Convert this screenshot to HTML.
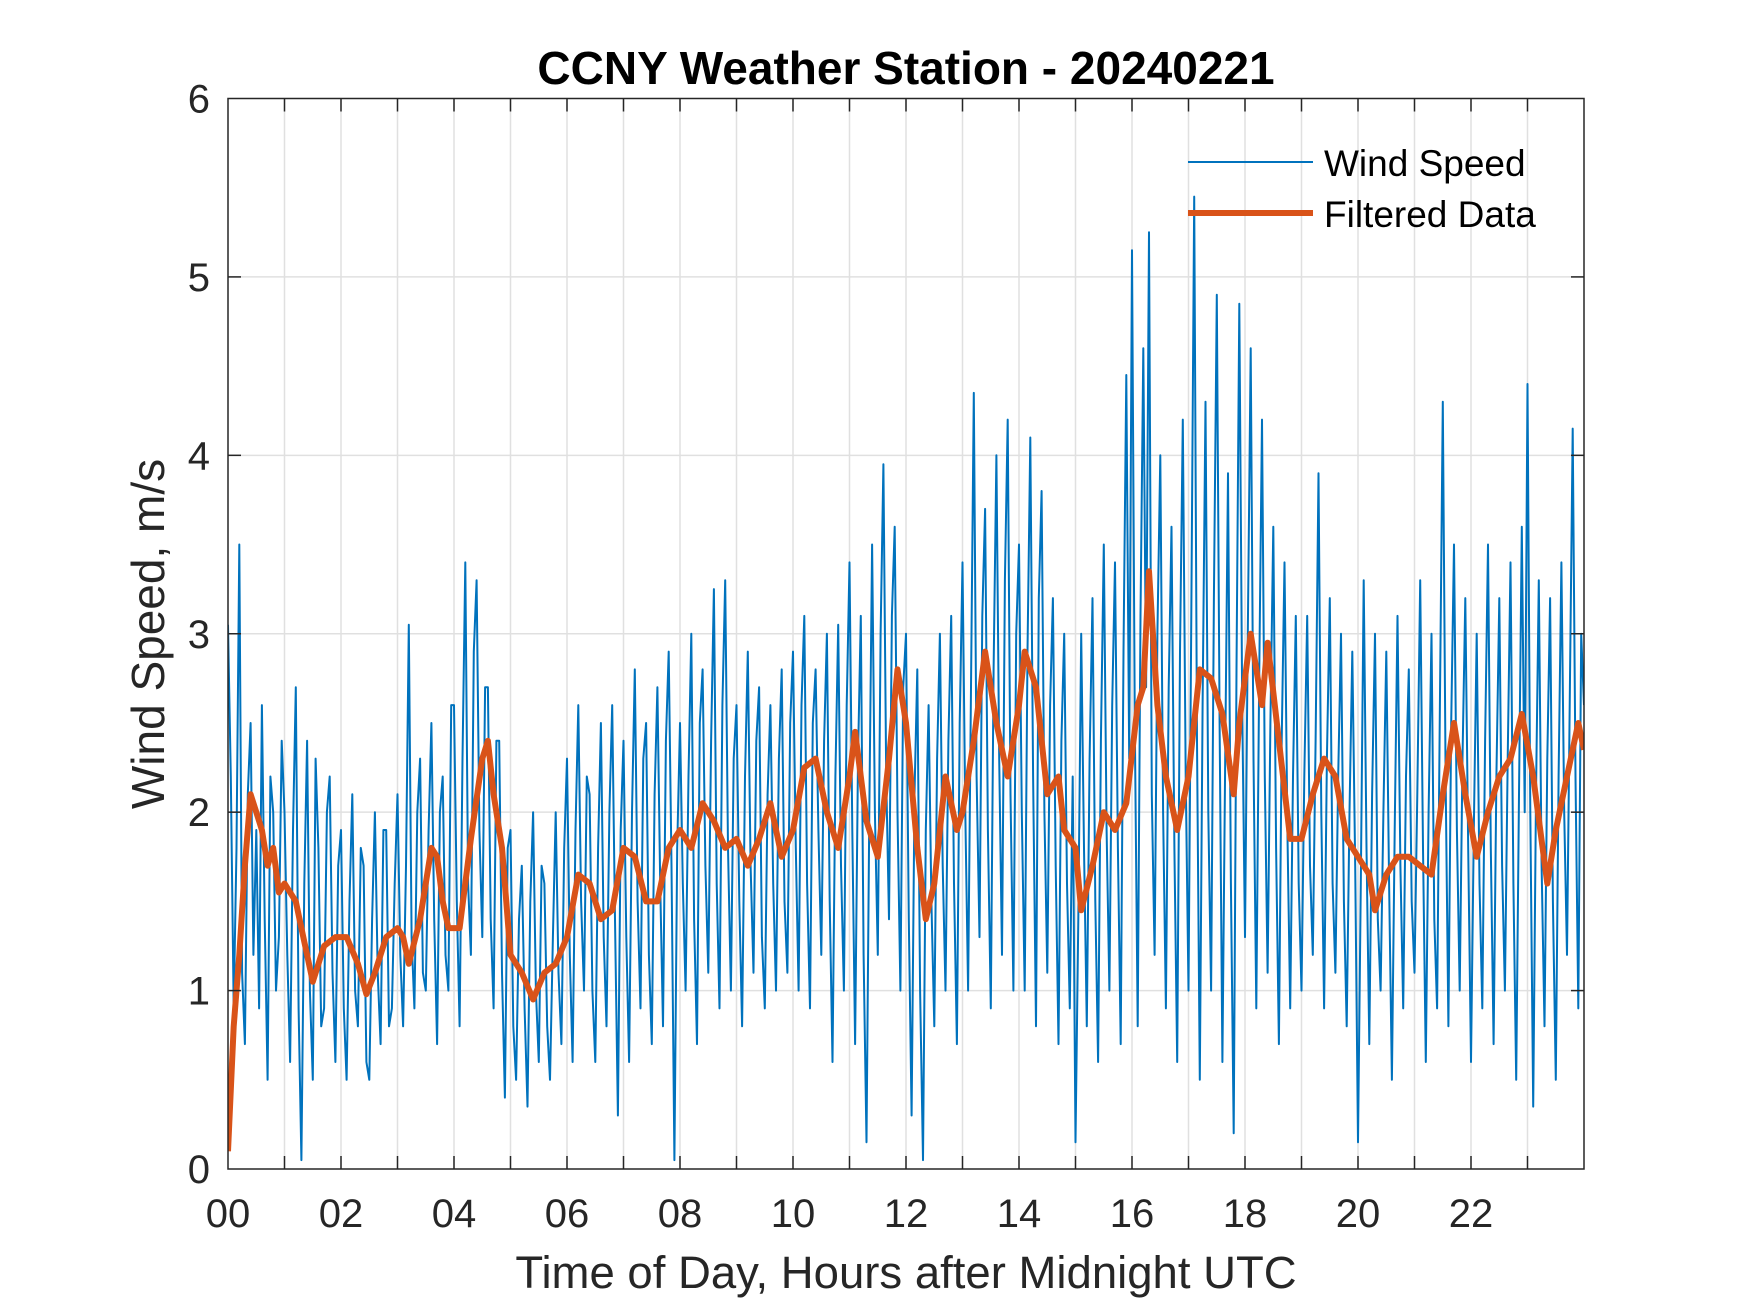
<!DOCTYPE html>
<html><head><meta charset="utf-8"><style>
html,body{margin:0;padding:0;background:#fff;}
svg{display:block;font-family:"Liberation Sans",Arial,sans-serif;}
</style></head><body>
<svg id="chart" width="1750" height="1313" viewBox="0 0 1750 1313" xmlns="http://www.w3.org/2000/svg">
<rect width="1750" height="1313" fill="#fff"/>
<defs><clipPath id="clip"><rect x="228" y="98.5" width="1356" height="1070.5"/></clipPath></defs>
<g id="grid"></g>
<g id="series" clip-path="url(#clip)"></g>
<rect x="228" y="98.5" width="1356" height="1070.5" fill="none" stroke="#262626" stroke-width="1.5"/>
<g id="ticks"></g>
<text x="906" y="84" text-anchor="middle" font-size="46" font-weight="bold" fill="#000">CCNY Weather Station - 20240221</text>
<text x="906" y="1288" text-anchor="middle" font-size="45.5" fill="#262626">Time of Day, Hours after Midnight UTC</text>
<text transform="translate(164,634) rotate(-90)" text-anchor="middle" font-size="46" fill="#262626">Wind Speed, m/s</text>
<g>
<line x1="1188" y1="162" x2="1313" y2="162" stroke="#0072BD" stroke-width="2"/>
<text x="1324" y="176" font-size="37" fill="#000">Wind Speed</text>
<line x1="1188" y1="213" x2="1313" y2="213" stroke="#D95319" stroke-width="6"/>
<text x="1324" y="227" font-size="37" fill="#000">Filtered Data</text>
</g>
</svg>
<script>
const xTickLabels=["00","02","04","06","08","10","12","14","16","18","20","22"];
const yTickLabels=["0","1","2","3","4","5","6"];
const windSpeed=[
3.05,2.2,0.9,1.8,3.5,1.1,0.7,2.1,2.5,1.2,1.9,0.9,2.6,1.4,0.5,2.2,2.0,1.0,1.3,2.4,
2.0,1.2,0.6,1.9,2.7,0.9,0.05,1.6,2.4,1.0,0.5,2.3,1.8,0.8,0.9,2.0,2.2,1.1,0.6,1.7,
1.9,0.9,0.5,1.5,2.1,1.0,0.8,1.8,1.7,0.6,0.5,1.4,2.0,1.1,0.7,1.9,1.9,0.8,0.9,1.6,
2.1,1.2,0.8,1.7,3.05,1.3,0.9,2.0,2.3,1.1,1.0,1.9,2.5,1.4,0.7,2.0,2.2,1.2,1.0,2.6,
2.6,1.5,0.8,2.3,3.4,1.6,1.2,2.9,3.3,1.9,1.3,2.7,2.7,1.4,0.9,2.4,2.4,1.1,0.4,1.8,
1.9,0.8,0.5,1.4,1.7,0.9,0.35,1.5,2.0,1.0,0.6,1.7,1.6,0.8,0.5,1.3,2.0,1.1,0.7,1.8,
2.3,1.2,0.6,1.9,2.6,1.5,1.0,2.2,2.1,1.0,0.6,1.8,2.5,1.3,0.8,2.0,2.6,1.4,0.3,1.9,
2.4,1.3,0.6,2.0,2.8,1.5,0.9,2.3,2.5,1.2,0.7,2.1,2.7,1.6,0.8,2.4,2.9,1.7,0.05,1.8,
2.5,1.6,1.0,2.2,3.0,1.4,0.7,2.5,2.8,1.7,1.1,2.4,3.25,1.6,0.9,2.6,3.3,1.8,1.0,2.3,
2.6,1.5,0.8,2.2,2.9,1.7,1.1,2.4,2.7,1.3,0.9,2.1,2.6,1.6,1.0,2.3,2.8,1.5,1.1,2.5,
2.9,1.8,1.0,2.6,3.1,1.6,0.9,2.5,2.8,1.9,1.2,2.4,3.0,1.5,0.6,2.2,3.05,1.7,1.0,2.6,
3.4,1.9,0.7,2.3,3.1,1.2,0.15,2.0,3.5,2.0,1.2,3.0,3.95,2.2,1.4,3.1,3.6,2.0,1.0,2.7,
3.0,1.4,0.3,2.1,2.8,1.0,0.05,1.9,2.6,1.5,0.8,2.3,3.0,1.7,1.0,2.4,3.1,1.6,0.7,2.5,
3.4,2.0,1.0,2.7,4.35,2.2,1.3,3.1,3.7,1.9,0.9,2.8,4.0,2.3,1.2,3.3,4.2,2.1,1.0,3.0,
3.5,2.0,1.0,2.9,4.1,2.2,0.8,3.2,3.8,2.0,1.1,2.6,3.2,1.7,0.7,2.4,3.0,1.6,0.9,2.2,
0.15,1.4,3.0,1.8,0.8,2.3,3.2,1.5,0.6,2.4,3.5,1.9,1.0,2.6,3.4,1.8,0.7,2.9,4.45,2.3,
5.15,2.5,0.8,3.1,4.6,2.7,5.25,2.1,1.2,3.0,4.0,2.0,0.9,2.7,3.6,1.8,0.6,2.9,4.2,2.2,
1.0,3.1,5.45,2.4,0.5,2.6,4.3,2.0,1.0,3.2,4.9,2.5,0.6,2.3,3.9,1.6,0.2,2.8,4.85,2.6,
1.3,3.0,4.6,2.3,0.9,2.7,4.2,2.2,1.1,2.5,3.6,1.8,0.7,2.4,3.4,1.9,0.9,2.2,3.1,1.6,
1.0,2.2,3.1,1.7,1.2,2.4,3.9,2.0,0.9,2.3,3.2,1.6,1.1,2.2,3.0,1.5,0.8,2.0,2.9,1.7,
0.15,1.6,3.3,1.8,0.7,2.1,3.0,1.4,1.0,2.0,2.9,1.6,0.5,1.9,3.1,1.7,0.9,2.2,2.8,1.5,
1.1,2.1,3.3,1.8,0.6,2.0,3.0,1.4,0.9,2.6,4.3,2.2,0.8,2.5,3.5,1.9,1.0,2.3,3.2,1.8,
0.6,1.9,3.0,1.6,0.9,2.4,3.5,1.8,0.7,2.2,3.2,1.7,1.0,2.3,3.4,1.6,0.5,2.1,3.6,2.0,
4.4,2.0,0.35,2.1,3.3,1.7,0.8,2.3,3.2,1.5,0.5,2.2,3.4,2.0,1.2,2.7,4.15,2.2,0.9,3.0,
2.6];
const filtT=[0,0.1,0.2,0.3,0.4,0.5,0.6,0.7,0.8,0.9,1.0,1.2,1.3,1.5,1.7,1.9,2.1,2.3,2.45,2.6,2.8,3.0,3.1,3.2,3.4,3.6,3.7,3.8,3.9,4.1,4.3,4.5,4.6,4.7,4.85,5.0,5.2,5.4,5.6,5.8,6.0,6.2,6.4,6.6,6.8,7.0,7.2,7.4,7.6,7.8,8.0,8.2,8.4,8.6,8.8,9.0,9.2,9.4,9.6,9.8,10.0,10.2,10.4,10.6,10.8,11.0,11.1,11.3,11.5,11.7,11.85,12.0,12.2,12.35,12.5,12.7,12.9,13.0,13.2,13.4,13.6,13.8,14.0,14.1,14.3,14.5,14.7,14.8,15.0,15.1,15.3,15.5,15.7,15.9,16.1,16.2,16.3,16.45,16.6,16.8,17.0,17.2,17.4,17.6,17.8,17.9,18.1,18.3,18.4,18.6,18.8,19.0,19.2,19.4,19.6,19.8,20.0,20.2,20.3,20.5,20.7,20.9,21.1,21.3,21.5,21.7,21.9,22.1,22.3,22.5,22.7,22.9,23.1,23.35,23.5,23.7,23.9,24];
const filtV=[0.1,0.8,1.2,1.7,2.1,2.0,1.9,1.7,1.8,1.55,1.6,1.5,1.35,1.05,1.25,1.3,1.3,1.15,0.98,1.1,1.3,1.35,1.3,1.15,1.4,1.8,1.75,1.5,1.35,1.35,1.85,2.3,2.4,2.1,1.8,1.2,1.1,0.95,1.1,1.15,1.3,1.65,1.6,1.4,1.45,1.8,1.75,1.5,1.5,1.8,1.9,1.8,2.05,1.95,1.8,1.85,1.7,1.85,2.05,1.75,1.9,2.25,2.3,2.0,1.8,2.2,2.45,1.95,1.75,2.3,2.8,2.5,1.8,1.4,1.6,2.2,1.9,2.0,2.4,2.9,2.5,2.2,2.6,2.9,2.7,2.1,2.2,1.9,1.8,1.45,1.7,2.0,1.9,2.05,2.6,2.7,3.35,2.6,2.2,1.9,2.2,2.8,2.75,2.55,2.1,2.5,3.0,2.6,2.95,2.4,1.85,1.85,2.1,2.3,2.2,1.85,1.75,1.65,1.45,1.65,1.75,1.75,1.7,1.65,2.1,2.5,2.1,1.75,2.0,2.2,2.3,2.55,2.2,1.6,1.9,2.2,2.5,2.35];

const NS="http://www.w3.org/2000/svg";
const X0=228,X1=1584,Y0=1169,Y1=98.5;
const xs=h=>X0+(h/24)*(X1-X0);
const ys=v=>Y0-(v/6)*(Y0-Y1);
function mk(tag,parent){const e=document.createElementNS(NS,tag);document.getElementById(parent).appendChild(e);return e;}

for(let h=1;h<24;h++){
  const g=mk('line','grid');
  
  
  g.setAttribute('x1',xs(h));g.setAttribute('x2',xs(h));g.setAttribute('y1',Y1);g.setAttribute('y2',Y0);
  g.setAttribute('stroke','#e0e0e0');g.setAttribute('stroke-width','1.5');
  [[Y0,Y0-13],[Y1,Y1+13]].forEach(p=>{
    const t=mk('line','ticks');
    
    
    t.setAttribute('x1',xs(h));t.setAttribute('x2',xs(h));t.setAttribute('y1',p[0]);t.setAttribute('y2',p[1]);
    t.setAttribute('stroke','#262626');t.setAttribute('stroke-width','1.5');
  });
}
xTickLabels.forEach((lab,i)=>{
  const t=mk('text','ticks');
  
  
  t.setAttribute('x',xs(i*2));t.setAttribute('y',1227);t.setAttribute('text-anchor','middle');
  t.setAttribute('font-size','40');t.setAttribute('fill','#262626');t.textContent=lab;
});
yTickLabels.forEach((lab,i)=>{
  const v=+lab;
  if(i>0&&i<6){
    const g=mk('line','grid');
    
    
    g.setAttribute('x1',X0);g.setAttribute('x2',X1);g.setAttribute('y1',ys(v));g.setAttribute('y2',ys(v));
    g.setAttribute('stroke','#e0e0e0');g.setAttribute('stroke-width','1.5');
    [[X0,X0+13],[X1,X1-13]].forEach(p=>{
      const t=mk('line','ticks');
      
      
      t.setAttribute('x1',p[0]);t.setAttribute('x2',p[1]);t.setAttribute('y1',ys(v));t.setAttribute('y2',ys(v));
      t.setAttribute('stroke','#262626');t.setAttribute('stroke-width','1.5');
    });
  }
  const t=mk('text','ticks');
  
  
  t.setAttribute('x',210);t.setAttribute('y',ys(v)+14);t.setAttribute('text-anchor','end');
  t.setAttribute('font-size','40');t.setAttribute('fill','#262626');t.textContent=lab;
});

const wp=mk('polyline','series');


wp.setAttribute('points',windSpeed.map((v,i)=>xs(i*24/(windSpeed.length-1)).toFixed(1)+','+ys(v).toFixed(1)).join(' '));
wp.setAttribute('fill','none');wp.setAttribute('stroke','#0072BD');wp.setAttribute('stroke-width','2');wp.setAttribute('stroke-linejoin','round');

const fp=mk('polyline','series');


fp.setAttribute('points',filtV.map((v,i)=>xs(filtT[i]).toFixed(1)+','+ys(v).toFixed(1)).join(' '));
fp.setAttribute('fill','none');fp.setAttribute('stroke','#D95319');fp.setAttribute('stroke-width','6');fp.setAttribute('stroke-linejoin','round');
</script>
</body></html>
